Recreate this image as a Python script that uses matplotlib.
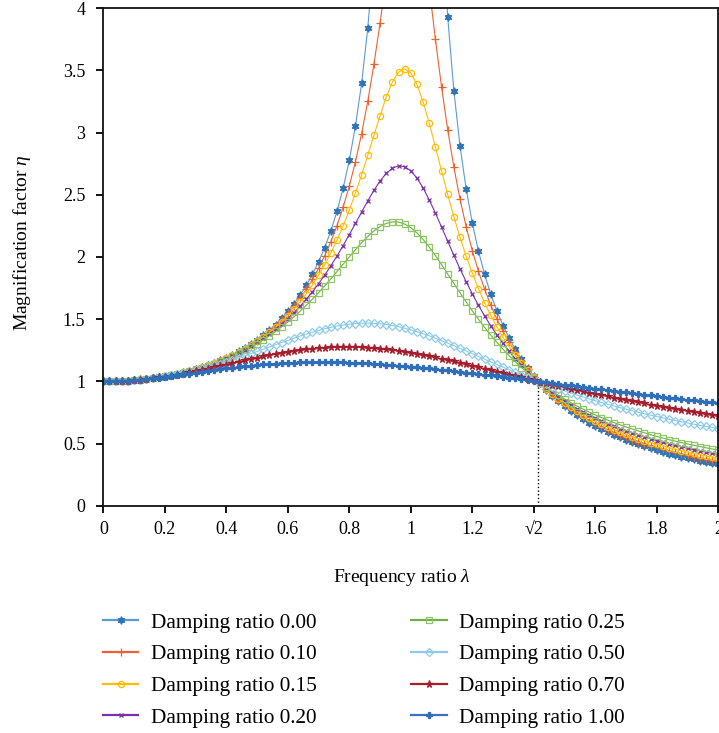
import matplotlib

matplotlib.use("Agg")
import matplotlib.pyplot as plt
import numpy as np

plt.rcParams["font.family"] = ["Liberation Serif", "DejaVu Serif"]
plt.rcParams["mathtext.fontset"] = "custom"
plt.rcParams["mathtext.rm"] = "Liberation Serif"
plt.rcParams["mathtext.it"] = "Liberation Serif:italic"

# frequency ratio (lambda) sampled every 0.02
freq_ratio = [
    0.00, 0.02, 0.04, 0.06, 0.08, 0.10, 0.12, 0.14, 0.16, 0.18,
    0.20, 0.22, 0.24, 0.26, 0.28, 0.30, 0.32, 0.34, 0.36, 0.38,
    0.40, 0.42, 0.44, 0.46, 0.48, 0.50, 0.52, 0.54, 0.56, 0.58,
    0.60, 0.62, 0.64, 0.66, 0.68, 0.70, 0.72, 0.74, 0.76, 0.78,
    0.80, 0.82, 0.84, 0.86, 0.88, 0.90, 0.92, 0.94, 0.96, 0.98,
    1.00, 1.02, 1.04, 1.06, 1.08, 1.10, 1.12, 1.14, 1.16, 1.18,
    1.20, 1.22, 1.24, 1.26, 1.28, 1.30, 1.32, 1.34, 1.36, 1.38,
    1.40, 1.42, 1.44, 1.46, 1.48, 1.50, 1.52, 1.54, 1.56, 1.58,
    1.60, 1.62, 1.64, 1.66, 1.68, 1.70, 1.72, 1.74, 1.76, 1.78,
    1.80, 1.82, 1.84, 1.86, 1.88, 1.90, 1.92, 1.94, 1.96, 1.98,
    2.00,
]

eta_000 = [
    1.000, 1.000, 1.002, 1.004, 1.006, 1.010, 1.015, 1.020, 1.026, 1.033,
    1.042, 1.051, 1.061, 1.073, 1.085, 1.099, 1.114, 1.131, 1.149, 1.169,
    1.190, 1.214, 1.240, 1.268, 1.299, 1.333, 1.371, 1.412, 1.457, 1.507,
    1.563, 1.624, 1.694, 1.772, 1.860, 1.961, 2.076, 2.210, 2.367, 2.554,
    2.778, 3.053, 3.397, 3.840, 4.433, 5.263, 6.510, 8.591, 12.755, 25.253,
    np.nan, 24.752, 12.255, 8.091, 6.010, 4.762, 3.931, 3.338, 2.894, 2.548,
    2.273, 2.048, 1.860, 1.702, 1.566, 1.449, 1.347, 1.257, 1.177, 1.106,
    1.042, 0.984, 0.931, 0.884, 0.840, 0.800, 0.763, 0.729, 0.698, 0.668,
    0.641, 0.616, 0.592, 0.570, 0.549, 0.529, 0.511, 0.493, 0.477, 0.461,
    0.446, 0.432, 0.419, 0.407, 0.395, 0.383, 0.372, 0.362, 0.352, 0.342,
    0.333,
]

eta_010 = [
    1.000, 1.000, 1.002, 1.004, 1.006, 1.010, 1.015, 1.020, 1.026, 1.033,
    1.042, 1.051, 1.061, 1.072, 1.085, 1.098, 1.114, 1.130, 1.148, 1.168,
    1.189, 1.212, 1.238, 1.265, 1.295, 1.328, 1.364, 1.404, 1.447, 1.494,
    1.547, 1.605, 1.669, 1.740, 1.820, 1.909, 2.010, 2.124, 2.253, 2.401,
    2.571, 2.766, 2.992, 3.251, 3.548, 3.882, 4.242, 4.602, 4.910, 5.096,
    5.099, 4.908, 4.572, 4.166, 3.752, 3.367, 3.023, 2.724, 2.466, 2.244,
    2.052, 1.885, 1.740, 1.613, 1.501, 1.401, 1.313, 1.233, 1.162, 1.097,
    1.038, 0.985, 0.936, 0.891, 0.850, 0.812, 0.777, 0.744, 0.714, 0.686,
    0.659, 0.635, 0.611, 0.590, 0.569, 0.550, 0.532, 0.515, 0.498, 0.483,
    0.468, 0.455, 0.441, 0.429, 0.417, 0.406, 0.395, 0.384, 0.374, 0.365,
    0.356,
]

eta_015 = [
    1.000, 1.000, 1.002, 1.004, 1.006, 1.010, 1.015, 1.020, 1.026, 1.033,
    1.042, 1.051, 1.061, 1.072, 1.084, 1.098, 1.113, 1.129, 1.147, 1.166,
    1.187, 1.210, 1.234, 1.261, 1.290, 1.322, 1.357, 1.394, 1.435, 1.480,
    1.528, 1.582, 1.640, 1.704, 1.775, 1.853, 1.938, 2.033, 2.137, 2.251,
    2.377, 2.514, 2.661, 2.817, 2.978, 3.137, 3.284, 3.406, 3.486, 3.513,
    3.480, 3.388, 3.248, 3.076, 2.886, 2.692, 2.503, 2.324, 2.159, 2.007,
    1.870, 1.745, 1.632, 1.530, 1.438, 1.354, 1.278, 1.209, 1.146, 1.088,
    1.035, 0.986, 0.941, 0.900, 0.861, 0.825, 0.792, 0.761, 0.732, 0.705,
    0.680, 0.656, 0.633, 0.612, 0.592, 0.573, 0.556, 0.539, 0.523, 0.508,
    0.493, 0.480, 0.466, 0.454, 0.442, 0.431, 0.420, 0.410, 0.400, 0.390,
    0.381,
]

eta_020 = [
    1.000, 1.000, 1.002, 1.004, 1.006, 1.010, 1.015, 1.020, 1.026, 1.033,
    1.041, 1.050, 1.061, 1.072, 1.084, 1.097, 1.112, 1.128, 1.145, 1.164,
    1.184, 1.206, 1.230, 1.256, 1.284, 1.314, 1.346, 1.381, 1.419, 1.460,
    1.505, 1.552, 1.604, 1.660, 1.720, 1.785, 1.855, 1.929, 2.008, 2.092,
    2.180, 2.270, 2.361, 2.451, 2.536, 2.611, 2.672, 2.714, 2.733, 2.726,
    2.693, 2.634, 2.555, 2.459, 2.353, 2.241, 2.127, 2.014, 1.905, 1.802,
    1.703, 1.612, 1.526, 1.447, 1.373, 1.305, 1.241, 1.183, 1.128, 1.078,
    1.031, 0.988, 0.947, 0.909, 0.874, 0.841, 0.810, 0.781, 0.754, 0.728,
    0.704, 0.681, 0.660, 0.640, 0.620, 0.602, 0.585, 0.568, 0.553, 0.538,
    0.524, 0.510, 0.497, 0.485, 0.473, 0.462, 0.451, 0.441, 0.431, 0.422,
    0.412,
]

eta_025 = [
    1.000, 1.000, 1.002, 1.004, 1.006, 1.010, 1.014, 1.020, 1.026, 1.033,
    1.041, 1.050, 1.060, 1.071, 1.083, 1.096, 1.111, 1.126, 1.143, 1.161,
    1.181, 1.202, 1.225, 1.249, 1.276, 1.304, 1.334, 1.366, 1.401, 1.438,
    1.477, 1.519, 1.564, 1.611, 1.660, 1.713, 1.768, 1.824, 1.883, 1.942,
    2.001, 2.059, 2.115, 2.165, 2.209, 2.245, 2.270, 2.282, 2.281, 2.265,
    2.236, 2.194, 2.141, 2.080, 2.011, 1.939, 1.863, 1.788, 1.712, 1.639,
    1.567, 1.499, 1.434, 1.372, 1.313, 1.258, 1.206, 1.157, 1.111, 1.068,
    1.027, 0.989, 0.953, 0.919, 0.888, 0.858, 0.829, 0.802, 0.777, 0.753,
    0.730, 0.709, 0.689, 0.669, 0.651, 0.633, 0.617, 0.601, 0.586, 0.571,
    0.557, 0.544, 0.531, 0.519, 0.508, 0.497, 0.486, 0.476, 0.466, 0.456,
    0.447,
]

eta_050 = [
    1.000, 1.000, 1.002, 1.004, 1.006, 1.010, 1.014, 1.020, 1.026, 1.032,
    1.040, 1.048, 1.057, 1.067, 1.078, 1.090, 1.102, 1.115, 1.128, 1.143,
    1.158, 1.173, 1.189, 1.206, 1.223, 1.240, 1.258, 1.276, 1.294, 1.312,
    1.329, 1.347, 1.364, 1.380, 1.395, 1.409, 1.423, 1.434, 1.445, 1.453,
    1.460, 1.465, 1.467, 1.468, 1.466, 1.463, 1.457, 1.449, 1.439, 1.428,
    1.414, 1.399, 1.383, 1.366, 1.347, 1.327, 1.307, 1.287, 1.265, 1.244,
    1.222, 1.200, 1.179, 1.157, 1.136, 1.114, 1.093, 1.073, 1.053, 1.033,
    1.014, 0.995, 0.976, 0.958, 0.940, 0.923, 0.907, 0.890, 0.875, 0.859,
    0.844, 0.830, 0.816, 0.802, 0.789, 0.776, 0.763, 0.751, 0.739, 0.728,
    0.717, 0.706, 0.695, 0.685, 0.675, 0.665, 0.656, 0.646, 0.637, 0.629,
    0.620,
]

eta_070 = [
    1.000, 1.000, 1.002, 1.004, 1.006, 1.010, 1.014, 1.019, 1.025, 1.031,
    1.038, 1.046, 1.054, 1.063, 1.072, 1.082, 1.092, 1.103, 1.113, 1.124,
    1.135, 1.146, 1.157, 1.168, 1.179, 1.190, 1.200, 1.210, 1.219, 1.228,
    1.237, 1.244, 1.251, 1.257, 1.263, 1.267, 1.271, 1.274, 1.276, 1.276,
    1.276, 1.275, 1.273, 1.271, 1.267, 1.262, 1.257, 1.251, 1.244, 1.237,
    1.229, 1.220, 1.211, 1.202, 1.192, 1.181, 1.171, 1.160, 1.149, 1.137,
    1.126, 1.114, 1.102, 1.091, 1.079, 1.067, 1.055, 1.043, 1.032, 1.020,
    1.008, 0.997, 0.985, 0.974, 0.963, 0.952, 0.941, 0.930, 0.919, 0.909,
    0.899, 0.889, 0.879, 0.869, 0.859, 0.849, 0.840, 0.831, 0.822, 0.813,
    0.804, 0.796, 0.787, 0.779, 0.771, 0.763, 0.755, 0.747, 0.739, 0.732,
    0.725,
]

eta_100 = [
    1.000, 1.000, 1.002, 1.004, 1.006, 1.010, 1.014, 1.019, 1.024, 1.029,
    1.036, 1.042, 1.049, 1.056, 1.063, 1.070, 1.077, 1.084, 1.091, 1.098,
    1.104, 1.110, 1.116, 1.122, 1.127, 1.131, 1.136, 1.140, 1.143, 1.146,
    1.149, 1.151, 1.152, 1.154, 1.154, 1.155, 1.155, 1.154, 1.153, 1.152,
    1.150, 1.149, 1.146, 1.144, 1.141, 1.138, 1.134, 1.131, 1.127, 1.122,
    1.118, 1.113, 1.109, 1.104, 1.099, 1.093, 1.088, 1.083, 1.077, 1.071,
    1.066, 1.060, 1.054, 1.048, 1.042, 1.036, 1.029, 1.023, 1.017, 1.011,
    1.004, 0.998, 0.992, 0.986, 0.979, 0.973, 0.967, 0.960, 0.954, 0.948,
    0.942, 0.936, 0.929, 0.923, 0.917, 0.911, 0.905, 0.899, 0.893, 0.887,
    0.881, 0.875, 0.870, 0.864, 0.858, 0.852, 0.847, 0.841, 0.836, 0.830,
    0.825,
]

series_labels = [
    "Damping ratio 0.00", "Damping ratio 0.10", "Damping ratio 0.15",
    "Damping ratio 0.20", "Damping ratio 0.25", "Damping ratio 0.50",
    "Damping ratio 0.70", "Damping ratio 1.00",
]
x_tick_labels = ["0", "0.2", "0.4", "0.6", "0.8", "1", "1.2", "\u221a2", "1.6", "1.8", "2"]
y_tick_labels = ["0", "0.5", "1", "1.5", "2", "2.5", "3", "3.5", "4"]
crossing_ratio = np.sqrt(2)

# (values, line colour, marker, marker edge, marker face, marker size)
styles = [
    (eta_000, "#5b9bd5", (6, 1, 0), "#2e75b6", "#2e75b6", 5.5),
    (eta_010, "#eb6231", "+", "#eb6231", "none", 6),
    (eta_015, "#ffbc00", "o", "#ffbc00", "none", 4.5),
    (eta_020, "#7b2fa8", "x", "#7b2fa8", "none", 3.5),
    (eta_025, "#72ae48", "s", "#8dc466", "none", 4),
    (eta_050, "#8ecbea", "D", "#8ecbea", "none", 4),
    (eta_070, "#a41e2e", "*", "#a41e2e", "#a41e2e", 5.5),
    (eta_100, "#3f70c0", "P", "#2f6eba", "#2f6eba", 4.5),
]

fig = plt.figure(figsize=(7.19, 7.33), dpi=100)
ax = fig.add_axes([0.1437, 0.3101, 0.8553, 0.6786])

handles = []
for (values, color, marker, mec, mfc, ms), label in zip(styles, series_labels):
    (line,) = ax.plot(
        freq_ratio, values, color=color, lw=0.8, marker=marker,
        ms=ms, mec=mec, mfc=mfc, mew=0.9, label=label,
    )
    handles.append(line)

ax.vlines(crossing_ratio, 0, 1, colors="black", linestyles=":", lw=1.0, zorder=1)

ax.set_xlim(0, 2)
ax.set_ylim(0, 4)
ax.set_xticks(np.linspace(0, 2, 11), x_tick_labels)
ax.set_yticks(np.linspace(0, 4, 9), y_tick_labels)
ax.tick_params(direction="out", length=5, width=1.3, labelsize=13, color="black")
ax.tick_params(axis="x", pad=6)
ax.tick_params(axis="y", pad=8)
for spine in ax.spines.values():
    spine.set_linewidth(1.3)
    spine.set_color("#111111")

fig.text(402 / 719, 1 - 578 / 733, "Frequency ratio $\\mathit{\\lambda}$",
         ha="center", va="center", fontsize=14)
fig.text(22 / 719, 1 - 243 / 733, "Magnification factor $\\mathit{\\eta}$",
         ha="center", va="center", rotation=90, fontsize=14)

leg = fig.legend(
    handles, series_labels, ncol=2, loc="upper left",
    bbox_to_anchor=(103 / 719, 1 - 613 / 733), frameon=False,
    fontsize=15.3, handlelength=1.65, handletextpad=0.61,
    columnspacing=4.45, labelspacing=0.55, borderpad=0, borderaxespad=0,
)
for legend_line in leg.get_lines():
    legend_line.set_linewidth(1.6)

fig.savefig("out.png", dpi=100)
plt.close(fig)
